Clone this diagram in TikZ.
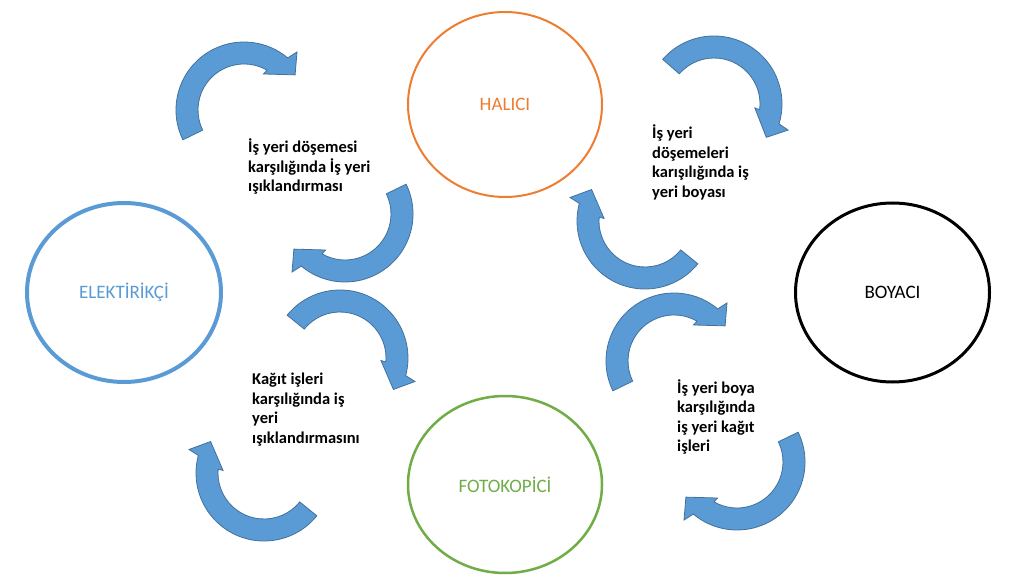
\documentclass[tikz,border=0pt]{standalone}
\usepackage{fontspec}
\setmainfont{Carlito}
\usetikzlibrary{shapes.geometric}
\definecolor{arrowblue}{HTML}{5B9BD5}
\definecolor{arrowline}{HTML}{41719C}
\definecolor{orng}{HTML}{ED7D31}
\definecolor{grn}{HTML}{70AD47}
\tikzset{
  carrow/.style={fill=arrowblue, draw=arrowline, line width=0.8pt, line join=miter},
  partner/.style={ellipse, draw, minimum width=194pt, minimum height=182pt, inner sep=0pt,
    font=\fontsize{19}{23}\selectfont},
  deal/.style={anchor=north west, align=left, inner sep=0pt,
    font=\fontsize{16.5}{19.5}\selectfont\bfseries}
}
\newcommand{\cyclearrow}[3]{%
  \begin{scope}[shift={(#1,576-#2)}, rotate=#3]
    \path[carrow] (206:68) arc[start angle=206, end angle=50, radius=68]
      -- (47.6:78.6) -- (34.5:62) -- (61.5:41) -- (60:46)
      arc[start angle=60, end angle=206, radius=46] -- cycle;
  \end{scope}}
\begin{document}
\begin{tikzpicture}[x=1pt, y=1pt]
  \useasboundingbox[fill=white] (0,0) rectangle (1024,576);
  % partners
  \node[partner, draw=orng, line width=2pt, text=orng, minimum height=185pt] (halici) at (505,576-104.5) {HALICI};
  \node[partner, draw=arrowblue, line width=4pt, text=arrowblue, minimum height=179pt] (elektirikci) at (124,576-292.5) {ELEKTİRİKÇİ};
  \node[partner, draw=black, line width=3pt, text=black, minimum height=179pt] (boyaci) at (892.5,576-292.5) {BOYACI};
  \node[partner, draw=grn, line width=2.5pt, text=grn, minimum height=177pt] (fotokopici) at (505,576-484.5) {FOTOKOPİCİ};
  % deals
  \node[deal] (deal1) at (248,576-139) {İş yeri döşemesi\\karşılığında İş yeri\\ışıklandırması};
  \node[deal] (deal2) at (652,576-125) {İş yeri\\döşemeleri\\karışılığında iş\\yeri boyası};
  \node[deal] (deal3) at (252,576-373) {Kağıt işleri\\karşılığında iş\\yeri\\ışıklandırmasını};
  \node[deal] (deal4) at (677,576-379) {İş yeri boya\\karşılığında\\iş yeri kağıt\\işleri};
  % circular arrows
  \cyclearrow{244}{110}{0}
  \cyclearrow{674}{361}{0}
  \cyclearrow{345}{214}{180}
  \cyclearrow{737}{462}{180}
  \cyclearrow{340}{358}{-65}
  \cyclearrow{714}{104}{-67}
  \cyclearrow{264}{473}{115}
  \cyclearrow{645}{221}{115}
\end{tikzpicture}
\end{document}
